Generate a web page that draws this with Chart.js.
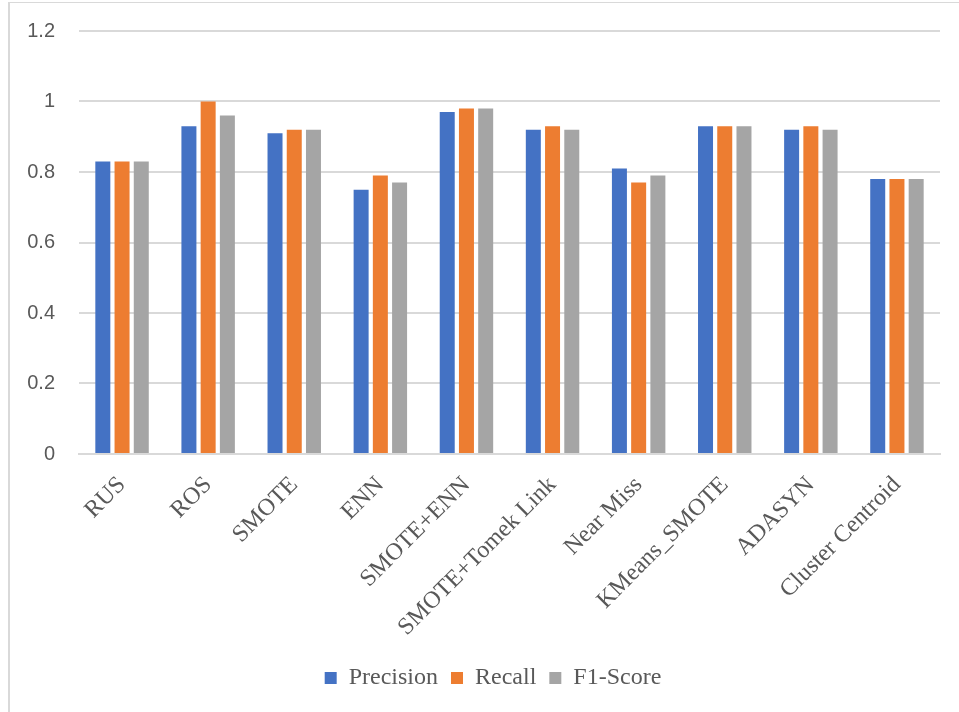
<!DOCTYPE html>
<html>
<head>
<meta charset="utf-8">
<title>Resampling methods – Precision, Recall, F1-Score</title>
<script src="https://cdn.jsdelivr.net/npm/chart.js@4.4.1/dist/chart.umd.min.js"></script>
<style>
  html, body { margin: 0; padding: 0; background: #ffffff; overflow: hidden; }
  #wrap { position: relative; width: 959px; height: 712px; }
  #frame {
    position: absolute; left: 8px; top: 2px; width: 1200px; height: 1000px;
    border-left: 2px solid #D9D9D9; border-top: 1px solid #D9D9D9; box-sizing: border-box;
  }
  canvas { position: absolute; left: 0; top: 0; }
</style>
</head>
<body>
<div id="wrap">
  <div id="frame"></div>
  <canvas id="chart" width="959" height="712"></canvas>
</div>
<script>
// Resampling methods on the x axis
const categories = ["RUS", "ROS", "SMOTE", "ENN", "SMOTE+ENN", "SMOTE+Tomek Link",
                    "Near Miss", "KMeans_SMOTE", "ADASYN", "Cluster Centroid"];

// Scores per method
const precision = [0.83, 0.93, 0.91, 0.75, 0.97, 0.92, 0.81, 0.93, 0.92, 0.78];
const recall    = [0.83, 1.00, 0.92, 0.79, 0.98, 0.93, 0.77, 0.93, 0.93, 0.78];
const f1Score   = [0.83, 0.96, 0.92, 0.77, 0.98, 0.92, 0.79, 0.93, 0.92, 0.78];

// Value axis ticks
const yTicks = [0, 0.2, 0.4, 0.6, 0.8, 1, 1.2];

const PAD = { top: 31, right: 19, bottom: 12, left: 0 };
const PLOT_LEFT = 79;
const PLOT_BOTTOM = 454;
const LEGEND_SHIFT = 23;

const textColor = "#595959";
const gridColor = "#D9D9D9";

// Nudge the bottom legend a little to the right of the canvas centre
const legendNudge = {
  id: "legendNudge",
  afterLayout(chart) {
    const lg = chart.legend;
    if (lg) { lg.left += LEGEND_SHIFT; lg.right += LEGEND_SHIFT; }
  }
};

new Chart(document.getElementById("chart"), {
  type: "bar",
  data: {
    labels: categories,
    datasets: [
      { label: "Precision", data: precision, backgroundColor: "#4472C4" },
      { label: "Recall",    data: recall,    backgroundColor: "#ED7D31" },
      { label: "F1-Score",  data: f1Score,   backgroundColor: "#A5A5A5" }
    ]
  },
  plugins: [legendNudge],
  options: {
    responsive: false,
    animation: false,
    devicePixelRatio: 1,
    layout: { padding: PAD },
    datasets: {
      bar: { categoryPercentage: 0.67, barPercentage: 0.78 }
    },
    plugins: {
      tooltip: { enabled: false },
      legend: {
        position: "bottom",
        labels: {
          boxWidth: 12,
          boxHeight: 12,
          padding: 13,
          color: textColor,
          font: { family: "'Liberation Serif', 'Times New Roman', serif", size: 24 }
        }
      }
    },
    scales: {
      x: {
        grid: { display: false, drawTicks: false },
        border: { color: gridColor, width: 2 },
        ticks: {
          color: textColor,
          minRotation: 45,
          maxRotation: 45,
          padding: 17,
          font: { family: "'Liberation Serif', 'Times New Roman', serif", size: 24 }
        },
        afterFit: (s) => {
          const c = s.chart;
          const legendH = c.legend ? c.legend.height : 0;
          s.height = c.height - PLOT_BOTTOM - legendH - PAD.bottom;
        }
      },
      y: {
        min: 0,
        max: 1.2,
        afterBuildTicks: (s) => { s.ticks = yTicks.map(v => ({ value: v })); },
        grid: { color: gridColor, lineWidth: 2, drawTicks: true, tickLength: 20, tickColor: "rgba(0,0,0,0)" },
        border: { display: false },
        ticks: {
          color: textColor,
          padding: 4,
          font: { family: "'Liberation Sans', Arial, sans-serif", size: 20 },
          callback: (v) => String(Math.round(v * 10) / 10)
        },
        afterFit: (s) => { s.width = PLOT_LEFT - PAD.left; }
      }
    }
  }
});
</script>
</body>
</html>
